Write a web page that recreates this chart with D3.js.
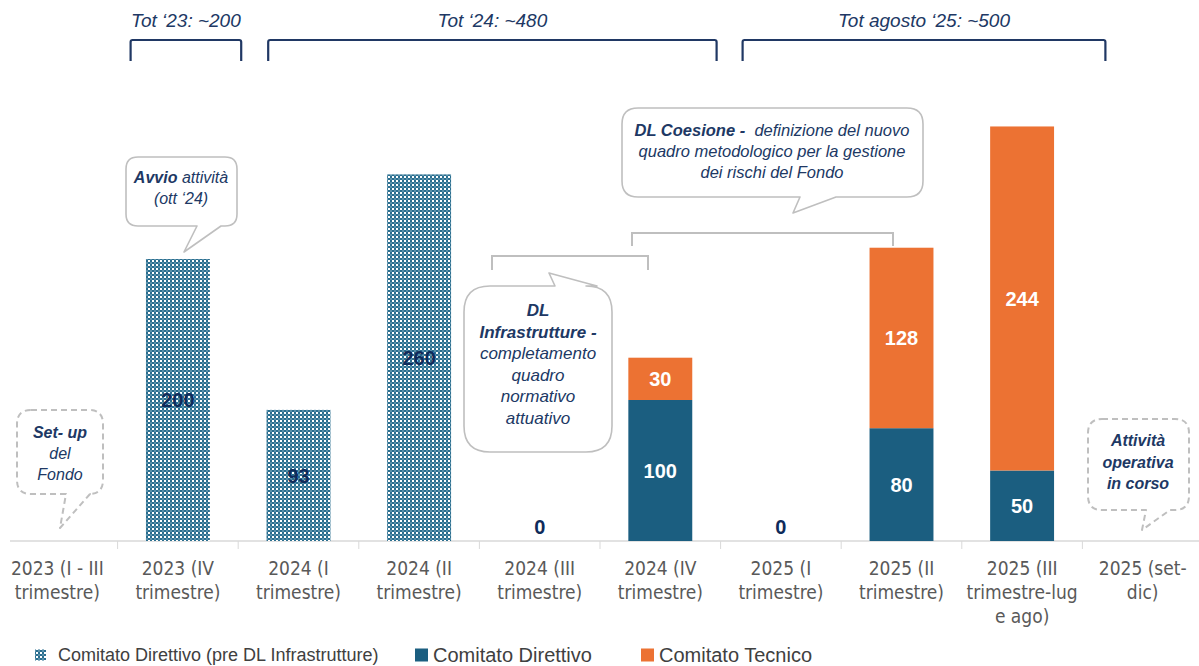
<!DOCTYPE html>
<html>
<head>
<meta charset="utf-8">
<script src="https://cdn.jsdelivr.net/npm/d3@7"></script>
<style>
  body { margin: 0; background: #fff; }
  svg { display: block; font-family: "Liberation Sans", Arial, sans-serif; }
</style>
</head>
<body>
<svg id="chart" width="1199" height="666"></svg>
<script>
// ---- data ----
var categories = [
  "2023 (I - III\ntrimestre)",
  "2023 (IV\ntrimestre)",
  "2024 (I\ntrimestre)",
  "2024 (II\ntrimestre)",
  "2024 (III\ntrimestre)",
  "2024 (IV\ntrimestre)",
  "2025 (I\ntrimestre)",
  "2025 (II\ntrimestre)",
  "2025 (III\ntrimestre-lug\ne ago)",
  "2025 (set-\ndic)"
];
var preValues       = [null, 200, 93, 260, null, null, null, null, null, null];
var direttivoValues = [null, null, null, null, 0, 100, 0, 80, 50, null];
var tecnicoValues   = [null, null, null, null, null, 30, null, 128, 244, null];

var seriesKeys   = ["pre", "direttivo", "tecnico"];
var seriesLabels = ["Comitato Direttivo (pre DL Infrastrutture)", "Comitato Direttivo", "Comitato Tecnico"];

var totalLabels = ["Tot \u201823: ~200", "Tot \u201824: ~480", "Tot agosto \u201825: ~500"];
var totalSpans  = [[1, 1], [2, 5], [6, 8]];

// ---- layout ----
var width = 1199, height = 666;
var baseY = 541;
var navy = "#203864";
var colors = { pre: "url(#checker)", direttivo: "#1b5e80", tecnico: "#ec7233" };

var svg = d3.select("#chart");

var defs = svg.append("defs");
var pat = defs.append("pattern")
  .attr("id", "checker")
  .attr("patternUnits", "userSpaceOnUse")
  .attr("width", 4).attr("height", 4);
pat.append("rect").attr("width", 4).attr("height", 4).attr("fill", "#2a6e8f");
pat.append("rect").attr("width", 2).attr("height", 2).attr("fill", "#ffffff");
pat.append("rect").attr("x", 2).attr("y", 2).attr("width", 2).attr("height", 2).attr("fill", "#5a91ab");

var x = d3.scaleBand()
  .domain(categories)
  .range([-3, 1203])
  .paddingInner(0.47)
  .paddingOuter(0.235);

var y = d3.scaleLinear().domain([0, 300]).range([baseY, 118]);

var step = x.step();
var gap = step * x.paddingInner();

// stacked rows
var rows = categories.map(function(c, i) {
  return { cat: c, pre: preValues[i], direttivo: direttivoValues[i], tecnico: tecnicoValues[i] };
});
var stacked = d3.stack()
  .keys(seriesKeys)
  .value(function(d, k) { return d[k] || 0; })(rows);

// axis line and category separators
svg.append("line")
  .attr("x1", 10).attr("x2", width)
  .attr("y1", baseY).attr("y2", baseY)
  .attr("stroke", "#d9d9d9").attr("stroke-width", 1.5);

svg.append("g").selectAll("line")
  .data(categories.slice(1))
  .enter().append("line")
  .attr("x1", function(d) { return x(d) - gap / 2; })
  .attr("x2", function(d) { return x(d) - gap / 2; })
  .attr("y1", baseY).attr("y2", baseY + 8)
  .attr("stroke", "#d9d9d9").attr("stroke-width", 1);

// bars
var layer = svg.append("g").selectAll("g")
  .data(stacked)
  .enter().append("g")
  .attr("fill", function(d) { return colors[d.key]; });

layer.selectAll("rect")
  .data(function(d) { return d.filter(function(s) { return s.data[d.key]; }); })
  .enter().append("rect")
  .attr("x", function(d) { return x(d.data.cat); })
  .attr("width", x.bandwidth())
  .attr("y", function(d) { return y(d[1]); })
  .attr("height", function(d) { return y(d[0]) - y(d[1]); });

// value labels
stacked.forEach(function(s) {
  svg.append("g").selectAll("text")
    .data(s.filter(function(d) { return d.data[s.key] !== null; }))
    .enter().append("text")
    .attr("x", function(d) { return x(d.data.cat) + x.bandwidth() / 2; })
    .attr("y", function(d) {
      return d.data[s.key] === 0 ? baseY - 14 : (y(d[0]) + y(d[1])) / 2;
    })
    .attr("dy", "0.36em")
    .attr("text-anchor", "middle")
    .attr("font-size", 20)
    .attr("font-weight", "bold")
    .attr("fill", function(d) { return (s.key === "pre" || d.data[s.key] === 0) ? "#0f2b5b" : "#ffffff"; })
    .text(function(d) { return d.data[s.key]; });
});

// category labels
var axis = svg.append("g")
  .attr("transform", "translate(0," + baseY + ")")
  .call(d3.axisBottom(x).tickSize(0).tickFormat(""));
axis.select(".domain").remove();
axis.selectAll(".tick text").remove();
axis.selectAll(".tick").append("text")
  .attr("text-anchor", "middle")
  .attr("fill", "#595959")
  .attr("font-size", 19)
  .attr("font-family", "'Liberation Sans Narrow', 'DejaVu Sans Condensed', 'Liberation Sans', sans-serif")
  .each(function(d) {
    var t = d3.select(this);
    d.split("\n").forEach(function(line, i) {
      t.append("tspan").attr("x", 0).attr("y", 34 + i * 24).text(line);
    });
  });

// top brackets with totals
var bracketPad = [[13, 3], [30, -4], [22, 23]];
totalSpans.forEach(function(span, i) {
  var x0 = x(categories[span[0]]) - gap / 2 + bracketPad[i][0];
  var x1 = x(categories[span[1]]) + x.bandwidth() + gap / 2 + bracketPad[i][1];
  svg.append("path")
    .attr("d", "M" + x0 + ",61 L" + x0 + ",42 Q" + x0 + ",40 " + (x0 + 2) + ",40 L" + (x1 - 2) + ",40 Q" + x1 + ",40 " + x1 + ",42 L" + x1 + ",61")
    .attr("fill", "none").attr("stroke", navy).attr("stroke-width", 2.2);
  svg.append("text")
    .attr("x", (x0 + x1) / 2).attr("y", 27)
    .attr("text-anchor", "middle")
    .attr("font-size", 19).attr("font-style", "italic")
    .attr("fill", navy)
    .text(totalLabels[i]);
});

// grey connector brackets
function connector(x0, x1, yTop, yEnd) {
  svg.append("path")
    .attr("d", "M" + x0 + "," + yEnd + " L" + x0 + "," + yTop + " L" + x1 + "," + yTop + " L" + x1 + "," + yEnd)
    .attr("fill", "none").attr("stroke", "#bfbfbf").attr("stroke-width", 2);
}
connector(492, 648, 256, 270);
connector(632, 893, 233, 246);

// callouts
function calloutPath(b, t) {
  var x0 = b.x, y0 = b.y, x1 = b.x + b.w, y1 = b.y + b.h, r = b.r;
  var p = "M" + (x0 + r) + "," + y0;
  if (t.side === "top") p += " L" + t.x1 + "," + y0 + " L" + t.tx + "," + t.ty + " L" + t.x2 + "," + y0;
  p += " L" + (x1 - r) + "," + y0 + " Q" + x1 + "," + y0 + " " + x1 + "," + (y0 + r);
  p += " L" + x1 + "," + (y1 - r) + " Q" + x1 + "," + y1 + " " + (x1 - r) + "," + y1;
  if (t.side === "bottom") p += " L" + t.x2 + "," + y1 + " L" + t.tx + "," + t.ty + " L" + t.x1 + "," + y1;
  p += " L" + (x0 + r) + "," + y1 + " Q" + x0 + "," + y1 + " " + x0 + "," + (y1 - r);
  p += " L" + x0 + "," + (y0 + r) + " Q" + x0 + "," + y0 + " " + (x0 + r) + "," + y0 + " Z";
  return p;
}

var callouts = [
  { box: { x: 17, y: 410, w: 86, h: 84, r: 14 }, tail: { side: "bottom", x1: 66, x2: 90, tx: 60, ty: 528 },
    dashed: true, cx: 60, y0: 438, lh: 21, size: 16,
    lines: [[["Set- up", true]], [["del", false]], [["Fondo", false]]] },
  { box: { x: 126, y: 157, w: 111, h: 69, r: 12 }, tail: { side: "bottom", x1: 197, x2: 221, tx: 184, ty: 252 },
    dashed: false, cx: 181, y0: 183, lh: 21, size: 16,
    lines: [[["Avvio", true], [" attivit\u00e0", false]], [["(ott \u201824)", false]]] },
  { box: { x: 464, y: 286, w: 148, h: 166, r: 26 }, tail: { side: "top", x1: 555, x2: 597, tx: 549, ty: 273 },
    dashed: false, cx: 538, y0: 316, lh: 21.6, size: 17,
    lines: [[["DL", true]], [["Infrastrutture -", true]], [["completamento", false]], [["quadro", false]],
            [["normativo", false]], [["attuativo", false]]] },
  { box: { x: 622, y: 108, w: 301, h: 89, r: 16 }, tail: { side: "bottom", x1: 800, x2: 836, tx: 793, ty: 213 },
    dashed: false, cx: 772, y0: 136, lh: 21, size: 16.5,
    lines: [[["DL Coesione -", true], ["  definizione del nuovo", false]],
            [["quadro metodologico per la gestione", false]], [["dei rischi del Fondo", false]]] },
  { box: { x: 1088, y: 419, w: 101, h: 91, r: 14 }, tail: { side: "bottom", x1: 1146, x2: 1170, tx: 1142, ty: 530 },
    dashed: true, cx: 1138, y0: 446, lh: 21.5, size: 16,
    lines: [[["Attivit\u00e0", true]], [["operativa", true]], [["in corso", true]]] }
];

callouts.forEach(function(c) {
  svg.append("path")
    .attr("d", calloutPath(c.box, c.tail))
    .attr("fill", "#ffffff")
    .attr("stroke", "#bfbfbf")
    .attr("stroke-width", c.dashed ? 2 : 1.6)
    .attr("stroke-dasharray", c.dashed ? "6,4" : null)
    .attr("stroke-linejoin", "round");
  var t = svg.append("text")
    .attr("text-anchor", "middle")
    .attr("font-size", c.size)
    .attr("font-style", "italic")
    .attr("fill", navy)
    .style("white-space", "pre");
  c.lines.forEach(function(line, i) {
    line.forEach(function(seg, j) {
      var ts = t.append("tspan").text(seg[0]).attr("font-weight", seg[1] ? "bold" : "normal");
      if (j === 0) ts.attr("x", c.cx).attr("y", c.y0 + i * c.lh);
    });
  });
});

// legend
var legendItems = [
  { key: "pre", x: 35, size: 11, font: 18 },
  { key: "direttivo", x: 415, size: 13, font: 20 },
  { key: "tecnico", x: 641, size: 13, font: 20 }
];
var legend = svg.append("g");
legendItems.forEach(function(item, i) {
  legend.append("rect")
    .attr("x", item.x).attr("y", 655 - item.size / 2)
    .attr("width", item.size).attr("height", item.size)
    .attr("fill", colors[item.key]);
  legend.append("text")
    .attr("x", item.x + item.size + (i === 0 ? 12 : 5)).attr("y", 655)
    .attr("dy", "0.35em")
    .attr("font-size", item.font)
    .attr("fill", "#404040")
    .text(seriesLabels[i]);
});
</script>
</body>
</html>
